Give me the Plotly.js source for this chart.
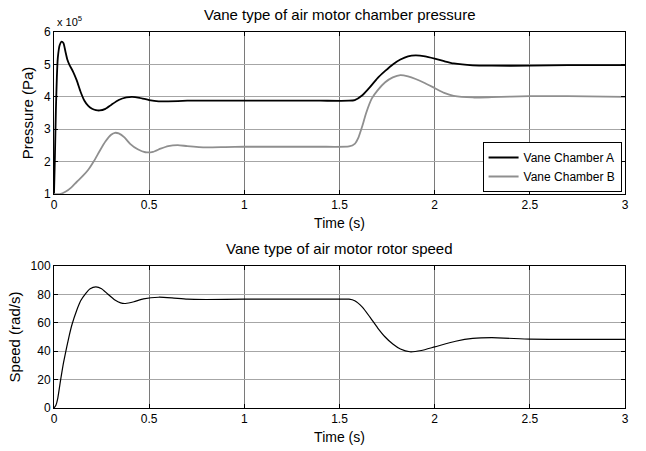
<!DOCTYPE html>
<html>
<head>
<meta charset="utf-8">
<script src="https://cdn.plot.ly/plotly-3.0.1.min.js"></script>
<style>html,body{margin:0;padding:0;background:#fff;}#chart{width:646px;height:451px;}</style>
</head>
<body>
<div id="chart"></div>
<script>
// Pressure, in units of 10^5 Pa
const timeA = [0, 0.005, 0.01, 0.015, 0.02, 0.03, 0.04, 0.05, 0.06, 0.07, 0.08, 0.10, 0.12, 0.14, 0.16, 0.18, 0.20, 0.22, 0.24, 0.27, 0.30, 0.34, 0.38, 0.41, 0.45, 0.50, 0.55, 0.60, 0.70, 0.80, 1.0, 1.2, 1.4, 1.55, 1.58, 1.62, 1.66, 1.70, 1.74, 1.78, 1.82, 1.86, 1.90, 1.95, 2.0, 2.05, 2.1, 2.2, 2.3, 2.5, 2.7, 3.0];
const pressureA = [1.0, 2.2, 3.6, 4.6, 5.2, 5.6, 5.7, 5.65, 5.4, 5.15, 5.0, 4.78, 4.5, 4.15, 3.88, 3.72, 3.63, 3.59, 3.58, 3.63, 3.75, 3.9, 3.98, 4.0, 3.97, 3.9, 3.86, 3.86, 3.88, 3.88, 3.88, 3.88, 3.88, 3.88, 3.9, 4.05, 4.3, 4.58, 4.8, 5.0, 5.15, 5.25, 5.28, 5.25, 5.18, 5.1, 5.03, 4.97, 4.96, 4.96, 4.98, 4.98];

const timeB = [0, 0.03, 0.06, 0.09, 0.12, 0.15, 0.18, 0.21, 0.24, 0.27, 0.30, 0.32, 0.34, 0.37, 0.40, 0.44, 0.48, 0.52, 0.56, 0.60, 0.65, 0.70, 0.80, 0.9, 1.0, 1.2, 1.4, 1.55, 1.58, 1.60, 1.62, 1.64, 1.67, 1.70, 1.74, 1.78, 1.82, 1.86, 1.90, 1.95, 2.0, 2.05, 2.1, 2.2, 2.3, 2.5, 2.7, 3.0];
const pressureB = [1.0, 1.0, 1.07, 1.2, 1.38, 1.55, 1.75, 2.02, 2.33, 2.62, 2.83, 2.89, 2.87, 2.75, 2.55, 2.38, 2.29, 2.3, 2.4, 2.48, 2.51, 2.48, 2.44, 2.45, 2.46, 2.46, 2.46, 2.47, 2.55, 2.75, 3.1, 3.5, 3.95, 4.2, 4.45, 4.6, 4.67, 4.63, 4.55, 4.42, 4.27, 4.12, 4.03, 3.98, 3.99, 4.02, 4.02, 4.0];

// Rotor speed (rad/s)
const timeS = [0, 0.01, 0.02, 0.035, 0.05, 0.067, 0.08, 0.095, 0.12, 0.14, 0.166, 0.19, 0.22, 0.25, 0.28, 0.32, 0.35, 0.376, 0.42, 0.47, 0.55, 0.62, 0.70, 0.80, 1.0, 1.2, 1.4, 1.55, 1.58, 1.62, 1.66, 1.70, 1.74, 1.78, 1.82, 1.87, 1.93, 2.0, 2.11, 2.2, 2.3, 2.5, 2.7, 3.0];
const speed = [0, 2, 7, 20, 32, 43, 51, 59, 69, 75.5, 80.6, 84, 85.3, 84, 80.5, 76, 74, 73.6, 74.8, 76.8, 78, 77.5, 76.6, 76.4, 76.6, 76.6, 76.6, 76.6, 75.5, 71, 64, 56.5, 50, 45, 41.5, 39.6, 40.5, 43, 47, 49, 49.5, 48.5, 48.3, 48.3];

const xTicks = [0, 0.5, 1, 1.5, 2, 2.5, 3];
const xTickText = ["0", "0.5", "1", "1.5", "2", "2.5", "3"];
const pTicks = [1, 2, 3, 4, 5, 6];
const pTickText = ["1", "2", "3", "4", "5", "6"];
const sTicks = [0, 20, 40, 60, 80, 100];
const sTickText = ["0", "20", "40", "60", "80", "100"];

const seriesNames = ["Vane Chamber A", "Vane Chamber B", "Speed"];
const titles = ["Vane type of air motor chamber pressure", "Vane type of air motor rotor speed"];

const FONT = "Liberation Sans, Arial, sans-serif";

const traces = [
  {x: timeA, y: pressureA, name: seriesNames[0], type: "scatter", mode: "lines",
   line: {color: "#000000", width: 1.8, shape: "spline", smoothing: 0.5}, xaxis: "x", yaxis: "y"},
  {x: timeB, y: pressureB, name: seriesNames[1], type: "scatter", mode: "lines",
   line: {color: "#8f8f8f", width: 1.8, shape: "spline", smoothing: 0.5}, xaxis: "x", yaxis: "y"},
  {x: timeS, y: speed, name: seriesNames[2], type: "scatter", mode: "lines", showlegend: false,
   line: {color: "#000000", width: 1.2, shape: "spline", smoothing: 0.5}, xaxis: "x2", yaxis: "y2"}
];

function xAxis(anchor) {
  return {
    anchor: anchor, domain: [0, 1], range: [0, 3], tickvals: xTicks, ticktext: xTickText,
    showgrid: true, gridcolor: "#7a7a7a", gridwidth: 1, zeroline: false,
    showline: true, linecolor: "#000", linewidth: 1, mirror: "ticks",
    ticks: "inside", ticklen: 4, tickcolor: "#000",
    tickfont: {family: FONT, size: 12, color: "#000"},
    title: {text: "Time (s)", font: {family: FONT, size: 14, color: "#000"}, standoff: 6}
  };
}
function yAxis(anchor, domain, range, tv, tt, title) {
  return {
    anchor: anchor, domain: domain, range: range, tickvals: tv, ticktext: tt,
    showgrid: true, gridcolor: "#a6a6a6", gridwidth: 1, zeroline: false,
    showline: true, linecolor: "#000", linewidth: 1, mirror: "ticks",
    ticks: "inside", ticklen: 4, tickcolor: "#000",
    tickfont: {family: FONT, size: 12, color: "#000"},
    title: {text: title, font: {family: FONT, size: 15, color: "#000"}, standoff: 6}
  };
}

const layout = {
  width: 646, height: 451,
  margin: {l: 54, r: 20.5, t: 32, b: 43, pad: 0},
  paper_bgcolor: "#fff", plot_bgcolor: "#fff",
  font: {family: FONT, color: "#000"},
  showlegend: true,
  legend: {x: 0.994, xanchor: "right", y: 0.5745, yanchor: "bottom",
    bgcolor: "#fff", bordercolor: "#000", borderwidth: 1,
    font: {family: FONT, size: 12, color: "#000"}, itemwidth: 30, tracegroupgap: 0},
  xaxis: xAxis("y"),
  yaxis: yAxis("x", [0.569, 1], [1, 6], pTicks, pTickText, "Pressure (Pa)"),
  xaxis2: xAxis("y2"),
  yaxis2: yAxis("x2", [0, 0.3777], [0, 100], sTicks, sTickText, "Speed (rad/s)"),
  annotations: [
    {text: titles[0], xref: "paper", yref: "paper", x: 0.5, y: 1.0, yshift: 18, xanchor: "center", yanchor: "middle",
     showarrow: false, font: {family: FONT, size: 15, color: "#000"}},
    {text: titles[1], xref: "paper", yref: "paper", x: 0.5, y: 0.3777, yshift: 17, xanchor: "center", yanchor: "middle",
     showarrow: false, font: {family: FONT, size: 15, color: "#000"}},
    {text: "x 10<sup>5</sup>", xref: "paper", yref: "paper", x: 0, y: 1.0, xshift: 1, yshift: 2, xanchor: "left", yanchor: "bottom",
     showarrow: false, font: {family: FONT, size: 11, color: "#000"}}
  ]
};

Plotly.newPlot("chart", traces, layout, {displayModeBar: false, staticPlot: true});
</script>
</body>
</html>
